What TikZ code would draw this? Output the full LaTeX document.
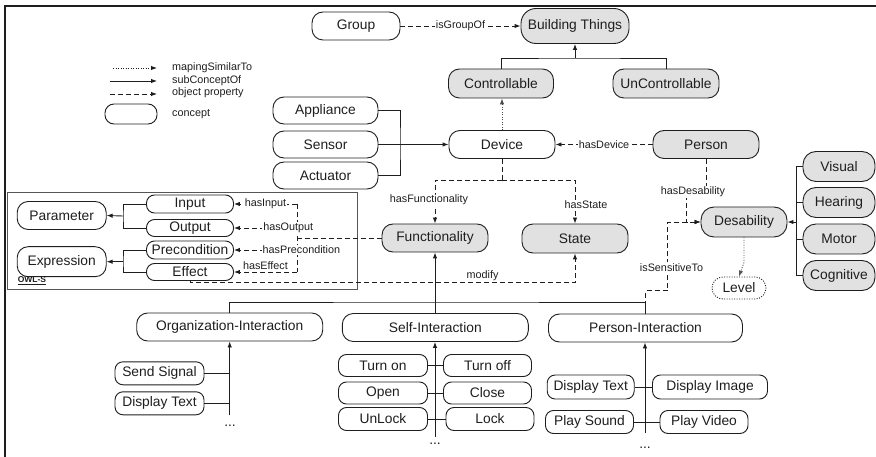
\documentclass[tikz,border=0pt]{standalone}
\usepackage{fontspec}
\setmainfont{Liberation Sans}
\usetikzlibrary{arrows.meta}
\definecolor{lg}{RGB}{225,225,225}
\definecolor{ln}{RGB}{30,30,30}
\begin{document}
\begin{tikzpicture}[x=1pt,y=-1pt,
  every node/.style={text=ln},
  concept/.style={draw=ln, line width=0.9pt, rounded corners=11pt, minimum height=28pt, inner sep=0pt, font=\fontsize{13.8}{15}\selectfont},
  gc/.style={concept, fill=lg},
  sm/.style={concept, rounded corners=8pt},
  lbl/.style={font=\fontsize{10.8}{12}\selectfont, inner sep=1pt},
  dots/.style={font=\fontsize{13.8}{15}\selectfont, inner sep=0pt},
  arr/.style={-{Latex[length=6pt,width=4.5pt]}},
  dsh/.style={dash pattern=on 5pt off 3pt},
  dtt/.style={dash pattern=on 1pt off 1.5pt},
  conn/.style={line width=0.9pt, draw=ln}]
\useasboundingbox (0,0) rectangle (876,457);
% outer frame
\draw[line width=2pt, draw=ln] (5,457) -- (5,6) -- (876,6);

% legend
\coordinate (l1a) at (113,68); \coordinate (l1b) at (157,68);
\coordinate (l2a) at (110,81); \coordinate (l2b) at (157,81);
\coordinate (l3a) at (110,94); \coordinate (l3b) at (157,94);
\draw[conn, dtt, arr] (l1a) -- (l1b);
\draw[conn, arr] (l2a) -- (l2b);
\draw[conn, dsh, arr] (l3a) -- (l3b);
\node[lbl, anchor=west] (t1) at (171,68) {mapingSimilarTo};
\node[lbl, anchor=west] (t2) at (171,81) {subConceptOf};
\node[lbl, anchor=west] (t3) at (171,93) {object property};
\node[concept, minimum width=52pt, minimum height=20pt, rounded corners=9pt] (lc) at (131,114) {};
\node[lbl, anchor=west] (t4) at (171,114) {concept};

% top nodes
\node[concept, minimum width=88pt] (group) at (356,26) {Group};
\node[gc, minimum width=108pt, minimum height=35pt, rounded corners=15pt] (bt) at (575,26) {Building Things};
\node[gc, minimum width=105pt, minimum height=29pt] (ctrl) at (501,83.5) {Controllable};
\node[gc, minimum width=106pt, minimum height=29pt] (unctrl) at (666,83.5) {UnControllable};
\node[concept, minimum width=105pt, minimum height=27pt] (appl) at (325.5,110.5) {Appliance};
\node[concept, minimum width=105pt, minimum height=27pt] (sens) at (325.5,144.5) {Sensor};
\node[concept, minimum width=105pt, minimum height=27pt] (act) at (325.5,175.5) {Actuator};
\node[concept, minimum width=106pt] (dev) at (502,144.5) {Device};
\node[gc, minimum width=106pt] (person) at (706,144.5) {Person};
\node[gc, minimum width=106pt] (func) at (435,238) {Functionality};
\node[gc, minimum width=106pt, minimum height=29pt] (state) at (575,238.5) {State};
\node[gc, minimum width=86pt, minimum height=30pt, rounded corners=13pt] (desab) at (744,222) {Desability};
\node[concept, dtt, minimum width=54pt, minimum height=22pt] (level) at (739,288) {Level};
\node[gc, minimum width=72pt, minimum height=30pt, rounded corners=13pt] (vis) at (839,166.5) {Visual};
\node[gc, minimum width=72pt, minimum height=30pt, rounded corners=13pt] (hear) at (839,202.5) {Hearing};
\node[gc, minimum width=72pt, minimum height=30pt, rounded corners=13pt] (mot) at (839,239) {Motor};
\node[gc, minimum width=72pt, minimum height=30pt, rounded corners=13pt] (cog) at (839,275.5) {Cognitive};

% OWL-S box
\draw[draw=ln!75, line width=0.8pt] (7,192) rectangle (357,289);
\node[font=\fontsize{8.5}{10}\selectfont\bfseries, inner sep=0pt] (owls) at (32,281) {\underline{OWL-S}};
\node[concept, minimum width=89pt] (param) at (61.7,215.5) {Parameter};
\node[concept, minimum width=89pt, minimum height=30pt] (expr) at (61.7,261.7) {Expression};
\node[sm, minimum width=87pt, minimum height=18pt] (input) at (190,204) {Input};
\node[sm, minimum width=87pt, minimum height=17pt] (output) at (190,228) {Output};
\node[sm, minimum width=87pt, minimum height=18pt] (precond) at (190,250) {Precondition};
\node[sm, minimum width=87pt, minimum height=17pt] (effect) at (190,272) {Effect};

% interaction nodes
\node[concept, minimum width=186pt] (org) at (229.7,327) {Organization-Interaction};
\node[concept, minimum width=186pt] (si) at (435.3,327.5) {Self-Interaction};
\node[concept, minimum width=194pt] (pi) at (645.5,328) {Person-Interaction};
\node[sm, minimum width=89pt, minimum height=23pt] (ss) at (159.5,373.3) {Send Signal};
\node[sm, minimum width=89pt, minimum height=23pt] (dt1) at (159.5,403.3) {Display Text};
\node[sm, minimum width=89pt, minimum height=22pt] (ton) at (383,365.5) {Turn on};
\node[sm, minimum width=89pt, minimum height=22pt] (open) at (383,393) {Open};
\node[sm, minimum width=89pt, minimum height=23pt] (unlock) at (383,419) {UnLock};
\node[sm, minimum width=88pt, minimum height=22pt] (toff) at (487.5,365.5) {Turn off};
\node[sm, minimum width=88pt, minimum height=22pt] (close) at (487.5,393) {Close};
\node[sm, minimum width=88pt, minimum height=23pt] (lock) at (490,419) {Lock};
\node[sm, minimum width=87pt, minimum height=24pt] (dt2) at (590.7,387) {Display Text};
\node[sm, minimum width=115pt, minimum height=24pt] (di) at (710,387) {Display Image};
\node[sm, minimum width=88pt, minimum height=23pt] (ps) at (589.5,422) {Play Sound};
\node[sm, minimum width=88pt, minimum height=23pt] (pv) at (704,422) {Play Video};
\node[dots] (d1) at (230,426) {...};
\node[dots] (d2) at (435,444) {...};
\node[dots] (d3) at (645,448) {...};

% top connectors
\draw[conn, dsh, arr] (group.east) -- (group.east -| bt.west) node[midway, lbl, fill=white] {isGroupOf};
\coordinate (j1) at (575,58);
\draw[conn] (ctrl.north) |- (j1) -| (unctrl.north);
\draw[conn, arr] (j1) -- (bt.south);
\draw[conn, dtt, arr, draw=ln!80] (dev.north) -- (dev.north |- ctrl.south);
\coordinate (ab) at (400,144.5);
\draw[conn] (appl.east) -| (ab) |- (act.east);
\draw[conn, arr] (sens.east) -- (dev.west);
\draw[conn, dsh, arr] (person.west) -- (dev.east) node[midway, lbl, fill=white] {hasDevice};
\coordinate (dj) at (502,180);
\draw[conn, dsh] (dev.south) -- (dj);
\draw[conn, dsh, arr] (dj) -| (func.north) node[pos=0.75, lbl, fill=white, xshift=-6pt, yshift=2pt] {hasFunctionality};
\draw[conn, dsh, arr] (dj) -| (state.north) node[pos=0.75, lbl, fill=white, xshift=11pt, yshift=-3pt] {hasState};
\draw[conn, dsh, arr] (person.south) -- (706,192) node[lbl, fill=white, xshift=-13pt] {hasDesability} -- (686,192) -- (686,222) -- (desab.west);
\draw[conn, dsh, arr] (pi.north) -- ++(0,-23) -- ++(22,0) |- (desab.west) node[pos=0.17, lbl, fill=white, xshift=4pt] {isSensitiveTo};
\draw[conn, dtt, arr, draw=ln!75] (desab.south) -- ++(0,25) -- (level.north);
\draw[conn] (vis.west) -- ++(-6,0) |- (cog.west);
\draw[conn] (hear.west) -- ++(-6,0);
\draw[conn] (mot.west) -- ++(-6,0);
\draw[conn, arr] (desab.east -| vis.west) ++(-6,0) -- (desab.east);

% OWL-S connectors
\coordinate (b1) at (123,216);
\coordinate (b2) at (123,261.7);
\draw[conn] (input.west) -| (b1) |- (output.west);
\draw[conn, arr] (b1) -- (param.east);
\draw[conn] (precond.west) -| (b2) |- (effect.west);
\draw[conn, arr] (b2) -- (expr.east);
\coordinate (sp) at (297,238);
\draw[conn, dsh] (func.west) -- (sp);
\draw[conn, dsh] (sp |- input.east) -- (sp |- effect.east);
\draw[conn, dsh, arr] (sp |- input.east) -- (input.east) node[pos=0.5, lbl, fill=white] {hasInput};
\draw[conn, dsh, arr] (sp |- output.east) -- (output.east) node[pos=0.14, lbl, fill=white] {hasOutput};
\draw[conn, dsh, arr] (sp |- precond.east) -- (precond.east) node[pos=-0.07, lbl, fill=white] {hasPrecondition};
\draw[conn, dsh, arr] (sp |- effect.east) -- (effect.east) node[midway, lbl, above=1pt] {hasEffect};
\draw[conn, dsh, arr] (effect.south) -- ++(0,2) -| (state.south) node[pos=0.38, lbl, above=1pt] {modify};

% bottom tree
\coordinate (j2) at (435,302);
\draw[conn] (org.north) |- (j2) -| (pi.north);
\draw[conn] (si.north) -- (si.north |- j2);
\draw[conn, arr] (j2) -- (func.south);
\draw[conn, arr] (org.south |- dt1.south) -- (org.south);
\draw[conn] (ss.east) -- (ss.east -| org.south);
\draw[conn] (dt1.east) -- (dt1.east -| org.south);
\coordinate (sb) at (435,437);
\draw[conn, arr] (sb) -- (sb |- si.south);
\draw[conn] (ton.east) -- (toff.west);
\draw[conn] (open.east) -- (close.west);
\draw[conn] (unlock.east) -- (lock.west);
\coordinate (pb) at (645,433);
\draw[conn, arr] (pb) -- (pb |- pi.south);
\draw[conn] (dt2.east) -- (di.west);
\draw[conn] (ps.east) -- (pv.west);
\end{tikzpicture}
\end{document}
